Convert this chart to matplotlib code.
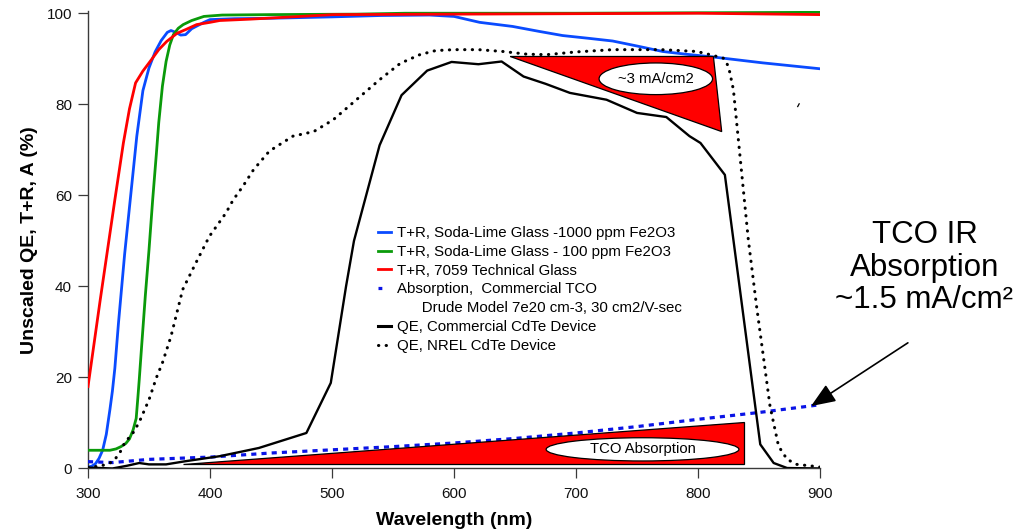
import matplotlib
matplotlib.use("Agg")
import matplotlib.pyplot as plt
from matplotlib.lines import Line2D
from matplotlib.patches import Polygon, Ellipse

plt.rcParams["font.family"] = ["Liberation Sans", "DejaVu Sans"]

# ---- series (wavelength in nm, value in %) ----
blue_wl = [300, 303, 306, 309, 312, 315, 318, 320, 322, 325, 330, 335, 340, 345, 350,
           355, 360, 365, 368, 372, 376, 380, 385, 390, 395, 400, 420, 450, 500, 540,
           580, 600, 621, 648, 670, 689, 710, 730, 750, 771, 790, 812, 853, 900]
blue_tr = [0.3, 0.5, 1.0, 2.2, 4.0, 7.5, 13, 17, 22, 32, 47, 60, 73, 83, 88,
           91.5, 94, 95.8, 96.2, 95.8, 95.2, 95.3, 96.6, 97.3, 98.0, 98.6, 98.8, 98.9, 99.2, 99.5,
           99.6, 99.3, 98.0, 97.1, 96.0, 95.1, 94.5, 93.9, 92.8, 91.6, 91.0, 90.4, 89.1, 87.8]

green_wl = [300, 318, 323, 327, 331, 334, 337, 339.5, 341, 342, 344, 347, 350, 353, 356,
            358, 361, 364, 367, 370, 374, 378, 385, 395, 410, 450, 520, 560, 700, 900]
green_tr = [4.0, 4.0, 4.3, 4.8, 5.5, 6.5, 8.5, 11, 16, 19.5, 27, 38, 48, 59, 69,
            76, 84, 89.4, 93, 95.3, 96.7, 97.5, 98.4, 99.3, 99.6, 99.7, 99.8, 100, 100, 100.2]

red_wl = [300, 310, 322, 329, 334, 339, 345, 352, 358, 364.5, 373, 380, 389, 400, 408,
          433, 474, 501, 600, 700, 800, 900]
red_tr = [18, 37, 59, 71.5, 79, 84.7, 87.3, 89.8, 92, 93.8, 95.6, 96.4, 97.5, 98.0, 98.4,
          98.7, 99.3, 99.7, 99.8, 99.9, 100, 99.7]

tco_wl = [300, 320, 350, 400, 450, 500, 550, 600, 650, 700, 750, 800, 850, 900]
tco_abs = [1.5, 1.3, 2.0, 2.5, 3.4, 4.1, 4.8, 5.6, 6.6, 7.8, 9.2, 10.8, 12.3, 14.0]

qe_com_wl = [300, 310, 320, 332, 342, 350, 364, 380, 408, 440, 479, 499, 511.5, 518, 539,
             557, 578, 598, 620, 639, 657, 675, 695, 725, 750, 774, 793, 802, 822, 851,
             862, 873, 900]
qe_com = [0.2, 0.1, 0.0, 0.6, 1.2, 0.9, 0.9, 1.6, 2.7, 4.5, 7.8, 18.8, 40, 50, 71,
          82, 87.4, 89.3, 88.8, 89.4, 86.1, 84.5, 82.5, 81, 78.1, 77.2, 73, 71.5, 64.5, 5.3,
          1.2, 0.1, 0.0]

qe_nrel_wl = [300, 310, 318, 322, 326, 330, 338, 343, 350, 356, 361, 368, 377.6, 388.5, 399.5,
              413, 419, 427, 435.6, 448.6, 455, 468, 485, 501, 520, 539, 556, 572, 585, 600,
              620, 640, 660, 676, 700, 730, 770, 799, 810, 821, 825, 829, 834.4, 841.2, 848,
              853.5, 859, 866, 873, 881, 894.5, 900]
qe_nrel = [0.3, 0.5, 1.2, 2.0, 3.4, 5.6, 8.2, 10.8, 15.1, 19.9, 23.2, 29, 39.3, 45.2, 51,
           56.1, 59, 62, 65.6, 69.7, 70.8, 73, 74, 76.6, 81, 85.4, 89, 90.9, 91.8, 92,
           92, 91.6, 91.0, 90.9, 91.5, 92, 92, 91.6, 90.9, 90.1, 88.3, 83.2, 68.6, 50.3, 35.6,
           24.7, 13.7, 4.9, 2.0, 0.9, 0.5, 0.3]

# ---- shaded loss regions ----
tco_tri_wl = [378, 838, 838]
tco_tri_val = [0.9, 0.9, 10.25]
ir_tri_wl = [646, 812.6, 819.4]
ir_tri_val = [90.5, 90.5, 74.0]

labels = [
    "T+R, Soda-Lime Glass -1000 ppm Fe2O3",
    "T+R, Soda-Lime Glass - 100 ppm Fe2O3",
    "T+R, 7059 Technical Glass",
    "Absorption,  Commercial TCO",
    "      Drude Model 7e20 cm-3, 30 cm2/V-sec",
    "QE, Commercial CdTe Device",
    "QE, NREL CdTe Device",
]

x_ticks = [300, 400, 500, 600, 700, 800, 900]
y_ticks = [0, 20, 40, 60, 80, 100]

c_blue = "#0a4bff"
c_green = "#0a9a0a"
c_red = "#ff0000"
c_tco = "#0a14e6"
c_axis = "#3a3a3a"
nrel_style = (0, (0.1, 2.4))

fig = plt.figure(figsize=(10.28, 5.32), dpi=100)
ax = fig.add_axes([0.0856, 0.1194, 0.7121, 0.8600])

ax.plot(blue_wl, blue_tr, color=c_blue, lw=2.0, zorder=3)
ax.plot(green_wl, green_tr, color=c_green, lw=2.0, zorder=3)
ax.plot(red_wl, red_tr, color=c_red, lw=2.0, zorder=3)
ax.plot(tco_wl, tco_abs, color=c_tco, lw=2.3, linestyle=(0, (1.6, 1.6)), zorder=3)
ax.plot(qe_com_wl, qe_com, color="black", lw=1.7, zorder=3)
ax.plot(qe_nrel_wl, qe_nrel, color="black", lw=2.2, linestyle=nrel_style,
        dash_capstyle="round", zorder=3)

# loss triangles with their labels
ax.add_patch(Polygon(list(zip(tco_tri_wl, tco_tri_val)), closed=True, facecolor=c_red,
                     edgecolor="black", lw=0.9, zorder=4))
ax.add_patch(Polygon(list(zip(ir_tri_wl, ir_tri_val)), closed=True, facecolor=c_red,
                     edgecolor="black", lw=0.9, zorder=4))
ax.add_patch(Ellipse((754.5, 4.2), 158, 5.1, facecolor="white", edgecolor="black",
                     lw=0.9, zorder=5))
ax.text(754.5, 4.2, "TCO Absorption", ha="center", va="center", fontsize=10.7, zorder=6)
ax.add_patch(Ellipse((765.4, 85.6), 93, 6.95, facecolor="white", edgecolor="black",
                     lw=0.9, zorder=5))
ax.text(765.4, 85.6, "~3 mA/cm2", ha="center", va="center", fontsize=10.7, zorder=6)
ax.plot([881.7, 882.9], [79.5, 80.1], color="black", lw=0.9, zorder=4)

# IR absorption callout
ax.text(985.6, 44.1, "TCO IR\nAbsorption\n~1.5 mA/cm²", ha="center", va="center",
        fontsize=22.5, linespacing=1.12, clip_on=False)
ax.annotate("", xy=(892.6, 13.7), xytext=(972, 27.6), annotation_clip=False,
            arrowprops=dict(arrowstyle="-|>,head_length=1.5,head_width=0.6", color="black",
                            lw=1.2, shrinkA=0, shrinkB=0, mutation_scale=10))

ax.set_xlim(300, 900)
ax.set_ylim(0, 100.5)
ax.set_xticks(x_ticks)
ax.set_yticks(y_ticks)
for s in ("top", "right"):
    ax.spines[s].set_visible(False)
for s in ("left", "bottom"):
    ax.spines[s].set_color(c_axis)
    ax.spines[s].set_linewidth(1.0)
ax.tick_params(axis="both", direction="out", length=7, width=0.9, color=c_axis,
               labelsize=11, labelcolor="#111111")
ax.tick_params(axis="x", pad=6)
ax.tick_params(axis="y", pad=4.5)

ax.set_xlabel("Wavelength (nm)", fontsize=14, fontweight="bold", labelpad=8)
ax.set_ylabel("Unscaled QE, T+R, A (%)", fontsize=14, fontweight="bold", labelpad=6)

handles = [
    Line2D([], [], color=c_blue, lw=2.0),
    Line2D([], [], color=c_green, lw=2.0),
    Line2D([], [], color=c_red, lw=2.0),
    Line2D([], [], color=c_tco, lw=2.3, linestyle=(0, (1.2, 5))),
    Line2D([], [], color="none"),
    Line2D([], [], color="black", lw=2.2),
    Line2D([], [], color="black", lw=2.2, linestyle=nrel_style, dash_capstyle="round"),
]
ax.legend(handles, labels, loc="upper left", bbox_to_anchor=(0.396, 0.530), frameon=False,
          fontsize=10.8, handlelength=0.9, handletextpad=0.4, labelspacing=0.32,
          borderpad=0, borderaxespad=0)

fig.savefig("out.png", dpi=100)
